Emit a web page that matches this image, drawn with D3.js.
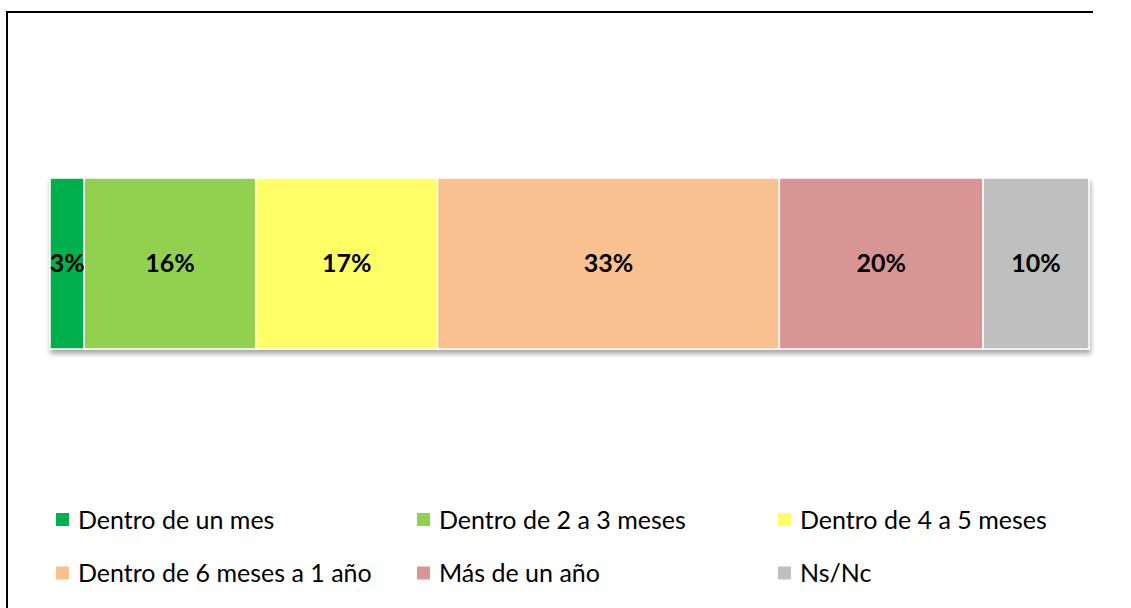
<!DOCTYPE html>
<html>
<head>
<meta charset="utf-8">
<script src="https://cdn.jsdelivr.net/npm/d3@7"></script>
<style>
  body { margin: 0; background: #fff; }
  text { font-family: Lato, "Open Sans", sans-serif; }
</style>
</head>
<body>
<div id="chart"></div>
<script>
  var categories = ["Dentro de un mes", "Dentro de 2 a 3 meses", "Dentro de 4 a 5 meses",
                    "Dentro de 6 meses a 1 año", "Más de un año", "Ns/Nc"];
  var values = [3.3, 16.5, 17.5, 32.9, 19.6, 10.2];
  var labels = ["3%", "16%", "17%", "33%", "20%", "10%"];
  var colors = ["#00b050", "#92d050", "#ffff66", "#f9c090", "#d99594", "#bfbfbf"];

  var width = 1131, height = 608;

  var svg = d3.select("#chart").append("svg")
      .attr("width", width)
      .attr("height", height);

  var defs = svg.append("defs");
  var shadow = defs.append("filter")
      .attr("id", "bar-shadow")
      .attr("x", "-5%").attr("y", "-10%")
      .attr("width", "110%").attr("height", "130%");
  shadow.append("feDropShadow")
      .attr("dx", 1).attr("dy", 4)
      .attr("stdDeviation", 2.5)
      .attr("flood-color", "#000")
      .attr("flood-opacity", 0.35);

  // partial frame (left + top edges)
  svg.append("path")
      .attr("d", "M7,608 V12 H1093")
      .attr("fill", "none")
      .attr("stroke", "#000")
      .attr("stroke-width", 2);

  var x = d3.scaleLinear().domain([0, d3.sum(values)]).range([50, 1089]);
  var y = d3.scaleBand().domain(["bar"]).range([178, 349]);

  var stacked = [];
  var acc = 0;
  values.forEach(function(v, i) {
    stacked.push({ name: categories[i], x0: acc, x1: acc + v, label: labels[i], color: colors[i] });
    acc += v;
  });

  var bar = svg.append("g").attr("filter", "url(#bar-shadow)");

  bar.selectAll("rect")
      .data(stacked)
    .enter().append("rect")
      .attr("x", d => x(d.x0))
      .attr("y", y("bar"))
      .attr("width", d => x(d.x1) - x(d.x0))
      .attr("height", y.bandwidth())
      .attr("fill", d => d.color)
      .attr("stroke", "#fff")
      .attr("stroke-width", 1.5);

  svg.append("g").selectAll("text")
      .data(stacked)
    .enter().append("text")
      .attr("x", d => (x(d.x0) + x(d.x1)) / 2)
      .attr("y", y("bar") + y.bandwidth() / 2)
      .attr("dy", "0.35em")
      .attr("text-anchor", "middle")
      .attr("font-size", "25px")
      .attr("font-weight", "bold")
      .attr("fill", "#000")
      .text(d => d.label);

  // legend: 3 columns x 2 rows
  var legendX = [56, 417, 778], legendY = [520, 573.5];

  var legend = svg.append("g").selectAll("g")
      .data(stacked)
    .enter().append("g")
      .attr("transform", (d, i) => "translate(" + legendX[i % 3] + "," + legendY[Math.floor(i / 3)] + ")");

  legend.append("rect")
      .attr("x", 0)
      .attr("y", -7)
      .attr("width", 13)
      .attr("height", 13)
      .attr("fill", d => d.color);

  legend.append("text")
      .attr("x", 22)
      .attr("y", 0)
      .attr("dy", "0.35em")
      .attr("font-size", "25px")
      .attr("fill", "#000")
      .text(d => d.name);
</script>
</body>
</html>
